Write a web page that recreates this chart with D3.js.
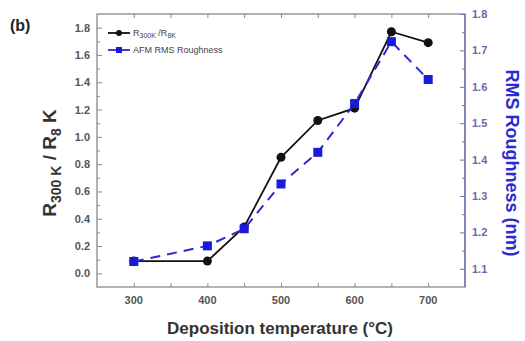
<!DOCTYPE html>
<html>
<head>
<meta charset="utf-8">
<script src="https://cdn.jsdelivr.net/npm/d3@7"></script>
<style>
  body { margin: 0; background: #fff; }
  text { font-family: "Liberation Sans", Arial, sans-serif; }
</style>
</head>
<body>
<div id="chart"></div>
<script>
// data
const temps = [300, 400, 450, 500, 550, 600, 650, 700];
const ratio = [0.09, 0.09, 0.34, 0.85, 1.12, 1.21, 1.77, 1.69];
const rms = [1.12, 1.163, 1.21, 1.333, 1.42, 1.554, 1.724, 1.62];
const xTicks = [300, 400, 500, 600, 700];
const leftTicks = [0.0, 0.2, 0.4, 0.6, 0.8, 1.0, 1.2, 1.4, 1.6, 1.8];
const rightTicks = [1.1, 1.2, 1.3, 1.4, 1.5, 1.6, 1.7, 1.8];

const width = 525, height = 341;
const box = {left: 97, right: 465, top: 14, bottom: 287};

const svg = d3.select("#chart").append("svg")
  .attr("width", width)
  .attr("height", height);

var x = d3.scaleLinear().domain([250, 750]).range([box.left, box.right]);
var yL = d3.scaleLinear().domain([-0.1, 1.9]).range([box.bottom, box.top]);
var yR = d3.scaleLinear().domain([1.05, 1.8]).range([box.bottom, box.top]);

const frame = "#8a8a8a";
const blue = "#1a1adb";
const tickTxt = "#555";

// frame
svg.append("rect")
  .attr("x", box.left).attr("y", box.top)
  .attr("width", box.right - box.left).attr("height", box.bottom - box.top)
  .attr("fill", "none").attr("stroke", frame).attr("stroke-width", 1.3);

// bottom axis
const gx = svg.append("g").attr("transform", "translate(0," + box.bottom + ")");
gx.call(d3.axisBottom(x).tickValues(d3.range(300, 701, 50)).tickSize(-4).tickFormat(""));
gx.call(g => g.select(".domain").remove());
gx.selectAll("line").attr("stroke", frame);
// top axis ticks
const gt = svg.append("g").attr("transform", "translate(0," + box.top + ")");
gt.call(d3.axisTop(x).tickValues(d3.range(300, 701, 50)).tickSize(-4).tickFormat(""));
gt.call(g => g.select(".domain").remove());
gt.selectAll("line").attr("stroke", frame);
svg.append("g").selectAll("text").data(xTicks).enter().append("text")
  .attr("x", d => x(d)).attr("y", box.bottom + 17)
  .attr("text-anchor", "middle")
  .attr("font-size", 11).attr("font-weight", "bold").attr("fill", tickTxt)
  .text(d => d);

// left axis
const gl = svg.append("g").attr("transform", "translate(" + box.left + ",0)");
gl.call(d3.axisLeft(yL).tickValues(d3.range(0, 1.81, 0.1)).tickSize(-3).tickFormat(""));
gl.call(g => g.select(".domain").remove());
gl.selectAll("line").attr("stroke", frame);
gl.selectAll(".tick line").filter((d, i) => i % 2 === 0).attr("x2", 5);
svg.append("g").selectAll("text").data(leftTicks).enter().append("text")
  .attr("x", box.left - 7).attr("y", d => yL(d) + 4)
  .attr("text-anchor", "end")
  .attr("font-size", 11).attr("font-weight", "bold").attr("fill", tickTxt)
  .text(d => d.toFixed(1));

// right axis
const gr = svg.append("g").attr("transform", "translate(" + box.right + ",0)");
gr.call(d3.axisRight(yR).tickValues(d3.range(1.1, 1.801, 0.05)).tickSize(-3).tickFormat(""));
gr.call(g => g.select(".domain").remove());
gr.selectAll("line").attr("stroke", "#7070b8");
gr.selectAll(".tick line").filter((d, i) => i % 2 === 0).attr("x2", -5);
svg.append("line")
  .attr("x1", box.right).attr("x2", box.right)
  .attr("y1", box.top).attr("y2", box.bottom)
  .attr("stroke", "#7070b8").attr("stroke-width", 1.3);
svg.append("g").selectAll("text").data(rightTicks).enter().append("text")
  .attr("x", box.right + 7).attr("y", d => yR(d) + 4)
  .attr("font-size", 11).attr("font-weight", "bold").attr("fill", "#6a6aa8")
  .text(d => d.toFixed(1));

// black solid line + circles
var lineL = d3.line().x((d, i) => x(temps[i])).y(d => yL(d));
svg.append("path").datum(ratio)
  .attr("d", lineL).attr("fill", "none")
  .attr("stroke", "#111").attr("stroke-width", 1.8);
svg.append("g").selectAll("circle").data(ratio).enter().append("circle")
  .attr("cx", (d, i) => x(temps[i])).attr("cy", d => yL(d))
  .attr("r", 4.5).attr("fill", "#111");

// blue dashed line + squares (on top)
var lineR = d3.line().x((d, i) => x(temps[i])).y(d => yR(d));
svg.append("path").datum(rms)
  .attr("d", lineR).attr("fill", "none")
  .attr("stroke", "#2a2ad0").attr("stroke-width", 2)
  .attr("stroke-dasharray", "10,7");
svg.append("g").selectAll("rect").data(rms).enter().append("rect")
  .attr("x", (d, i) => x(temps[i]) - 4.5).attr("y", d => yR(d) - 4.5)
  .attr("width", 9).attr("height", 9)
  .attr("fill", blue);

// legend
const lg = svg.append("g");
lg.append("line").attr("x1", 108).attr("x2", 130).attr("y1", 33).attr("y2", 33)
  .attr("stroke", "#111").attr("stroke-width", 1.8);
lg.append("circle").attr("cx", 119).attr("cy", 33).attr("r", 3).attr("fill", "#111");
const t1 = lg.append("text").attr("x", 133).attr("y", 36)
  .attr("font-size", 9).attr("fill", "#444");
t1.append("tspan").text("R");
t1.append("tspan").attr("font-size", 7).attr("dy", 2).text("300K");
t1.append("tspan").attr("dy", -2).text(" /R");
t1.append("tspan").attr("font-size", 7).attr("dy", 2).text("8K");
lg.append("line").attr("x1", 108).attr("x2", 130).attr("y1", 50).attr("y2", 50)
  .attr("stroke", "#2a2ad0").attr("stroke-width", 1.8);
lg.append("rect").attr("x", 116).attr("y", 47).attr("width", 6).attr("height", 6).attr("fill", blue);
lg.append("text").attr("x", 133).attr("y", 53)
  .attr("font-size", 9).attr("fill", "#444")
  .text("AFM RMS Roughness");

// panel label
svg.append("text").attr("x", 10).attr("y", 31)
  .attr("font-size", 16).attr("font-weight", "bold").attr("fill", "#222")
  .text("(b)");

// axis titles
svg.append("text")
  .attr("x", 280).attr("y", 334)
  .attr("text-anchor", "middle")
  .attr("font-size", 17).attr("font-weight", "bold").attr("fill", "#333")
  .text("Deposition temperature (\u00b0C)");

const yl = svg.append("text")
  .attr("text-anchor", "middle")
  .attr("transform", "translate(56,163)rotate(-90)")
  .attr("font-size", 19).attr("font-weight", "bold").attr("fill", "#333");
yl.append("tspan").text("R");
yl.append("tspan").attr("font-size", 14).attr("dy", 5).text("300 K");
yl.append("tspan").attr("dy", -5).text(" / R");
yl.append("tspan").attr("font-size", 14).attr("dy", 5).text("8");
yl.append("tspan").attr("dy", -5).text(" K");

svg.append("text")
  .attr("text-anchor", "middle")
  .attr("transform", "translate(506,163)rotate(90)")
  .attr("font-size", 18).attr("font-weight", "bold").attr("fill", "#2a2ad0")
  .text("RMS Roughness (nm)");
</script>
</body>
</html>
